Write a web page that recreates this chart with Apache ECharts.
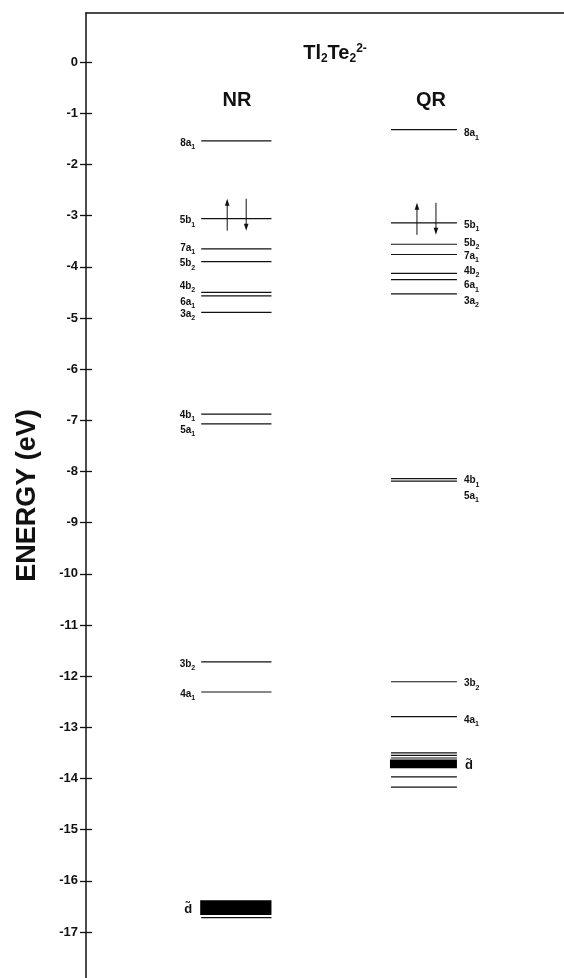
<!DOCTYPE html>
<html><head><meta charset="utf-8">
<script src="https://cdn.jsdelivr.net/npm/echarts@6/dist/echarts.min.js"></script>
<style>html,body{margin:0;padding:0;background:#fff}#c{width:564px;height:978px}</style>
</head><body><div id="c"></div>
<script>
// ---- data ----
const columns = ['NR', 'QR'];
const tickValues = [0, -1, -2, -3, -4, -5, -6, -7, -8, -9, -10, -11, -12, -13, -14, -15, -16, -17];
const nrLabels = ['8a1', '5b1', '7a1', '5b2', '4b2', '6a1', '3a2', '4b1', '5a1', '3b2', '4a1'];
const nrEnergies = [-1.54, -3.06, -3.65, -3.90, -4.50, -4.57, -4.89, -6.88, -7.07, -11.72, -12.31];
const qrLabels = ['8a1', '5b1', '5b2', '7a1', '4b2', '6a1', '3a2', '4b1', '5a1', '3b2', '4a1'];
const qrEnergies = [-1.32, -3.14, -3.56, -3.76, -4.13, -4.25, -4.53, -8.14, -8.19, -12.11, -12.79];
const nrDBand = [-16.38, -16.67];
const nrDLines = [-16.72];
const qrDBand = [-13.63, -13.80];
const qrDLines = [-13.50, -13.55, -13.60, -13.97, -14.17];
const occupiedLevel = '5b1';

// ---- layout / style ----
const FONT = "'Liberation Sans', Arial, Helvetica, sans-serif";
const colX = { NR: [24.1, 38.8], QR: [63.8, 77.6] };   // x-axis units (0..100)
const nrNudge = [0, 0, -3, 0, -8, 4, 0, -1, 4, 0, 0];    // label pixel offsets
const qrNudge = [2, 0, -3, 0, -4, 4, 5, 0, 13, 0, 2];
const rich = {
  m: { fontSize: 10, fontWeight: 'bold', fontFamily: FONT, lineHeight: 10, fill: '#111' },
  s: { fontSize: 7, fontWeight: 'bold', fontFamily: FONT, lineHeight: 7, padding: [8, 0, 0, 0], fill: '#111' }
};
function labelText(l) { return '{m|' + l.slice(0, -1) + '}{s|' + l.slice(-1) + '}'; }

const items = [];
nrEnergies.forEach((e, i) => items.push({ col: 0, type: 'level', e, label: nrLabels[i], nudge: nrNudge[i] }));
qrEnergies.forEach((e, i) => items.push({ col: 1, type: 'level', e, label: qrLabels[i], nudge: qrNudge[i] }));
items.push({ col: 0, type: 'band', e: nrDBand[0], e2: nrDBand[1] });
nrDLines.forEach(e => items.push({ col: 0, type: 'level', e }));
items.push({ col: 1, type: 'band', e: qrDBand[0], e2: qrDBand[1] });
qrDLines.forEach(e => items.push({ col: 1, type: 'level', e }));

function arrow(x, yFrom, yTo) {
  const dir = yTo < yFrom ? 1 : -1;
  return [
    { type: 'line', shape: { x1: x, y1: yFrom, x2: x, y2: yTo + dir * 5 }, style: { stroke: '#111', lineWidth: 1 } },
    { type: 'polygon', shape: { points: [[x, yTo], [x - 2.3, yTo + dir * 7], [x + 2.3, yTo + dir * 7]] }, style: { fill: '#111' } }
  ];
}

function renderItem(params, api) {
  const it = items[params.dataIndex];
  const name = columns[it.col];
  const [xl, xr] = colX[name];
  const children = [];
  if (it.type === 'level') {
    const p0 = api.coord([xl, it.e]);
    const p1 = api.coord([xr, it.e]);
    children.push({ type: 'line', shape: { x1: p0[0], y1: p0[1], x2: p1[0], y2: p1[1] }, style: { stroke: '#111', lineWidth: 1.2 } });
    if (it.label) {
      const left = it.col === 0;
      children.push({ type: 'text', style: {
        text: labelText(it.label), rich, x: left ? p0[0] - 6 : p1[0] + 7, y: p0[1] + it.nudge + 2,
        align: left ? 'right' : 'left', verticalAlign: 'middle' } });
    }
    if (it.label === occupiedLevel) {
      const y = p0[1];
      children.push(...arrow(p0[0] + 26, y + 12, y - 20));
      children.push(...arrow(p0[0] + 45, y - 20, y + 12));
    }
  } else {
    const a = api.coord([xl, it.e]);
    const b = api.coord([xr, it.e2]);
    children.push({ type: 'rect', shape: { x: a[0] - 1, y: a[1], width: b[0] - a[0] + 1, height: b[1] - a[1] }, style: { fill: '#000' } });
    const left = it.col === 0;
    children.push({ type: 'text', style: {
      text: 'd\u0303', x: left ? a[0] - 9 : b[0] + 8, y: (a[1] + b[1]) / 2 + 2,
      align: left ? 'right' : 'left', verticalAlign: 'middle',
      font: 'bold 13px ' + FONT, fill: '#111' } });
  }
  return { type: 'group', children };
}

const chart = echarts.init(document.getElementById('c'), null, { renderer: 'canvas' });
const yBase = { type: 'value', min: -17.9, max: 0.96, splitLine: { show: false } };
chart.setOption({
  animation: false,
  grid: { left: 86, right: 0, top: 13, bottom: 0, containLabel: false, outerBoundsMode: 'none' },
  xAxis: { type: 'value', min: 0, max: 100, position: 'top',
    axisLine: { show: true, onZero: false, lineStyle: { color: '#111', width: 1.5 } },
    axisTick: { show: false }, axisLabel: { show: false }, splitLine: { show: false } },
  yAxis: [
    Object.assign({}, yBase, {
      name: 'ENERGY (eV)', nameLocation: 'middle', nameGap: 45, nameRotate: 90,
      nameTextStyle: { fontSize: 27, fontWeight: 'bold', fontFamily: FONT, color: '#111' },
      axisLine: { show: true, onZero: false, lineStyle: { color: '#111', width: 1.5 } },
      axisTick: { show: true, length: 6, customValues: tickValues, lineStyle: { color: '#111', width: 1.3 } },
      axisLabel: { show: true, customValues: tickValues, margin: 8, fontSize: 13, fontWeight: 'bold', fontFamily: FONT, color: '#111' }
    }),
    Object.assign({}, yBase, {
      position: 'left', offset: 0,
      axisLine: { show: false, onZero: false },
      axisTick: { show: true, inside: true, length: 6, customValues: tickValues, lineStyle: { color: '#111', width: 1.3 } },
      axisLabel: { show: false }
    })
  ],
  graphic: [
    { type: 'text', x: 335, y: 53, style: { text: 'Tl{b|2}Te{b|2}{p|2-}', align: 'center', verticalAlign: 'middle',
      font: 'bold 20px ' + FONT, fill: '#111',
      rich: { b: { fontSize: 12, fontWeight: 'bold', fontFamily: FONT, padding: [12, 0, 0, 0], fill: '#111' },
              p: { fontSize: 12, fontWeight: 'bold', fontFamily: FONT, padding: [0, 0, 9, 0], fill: '#111' } } } },
    { type: 'text', x: 237, y: 100, style: { text: columns[0], align: 'center', verticalAlign: 'middle', font: 'bold 20px ' + FONT, fill: '#111' } },
    { type: 'text', x: 431, y: 100, style: { text: columns[1], align: 'center', verticalAlign: 'middle', font: 'bold 20px ' + FONT, fill: '#111' } }
  ],
  series: [{
    type: 'custom', renderItem, xAxisIndex: 0, yAxisIndex: 0, clip: false,
    encode: { x: 0, y: 1 },
    data: items.map(it => [it.col, it.e])
  }]
});
</script></body></html>
